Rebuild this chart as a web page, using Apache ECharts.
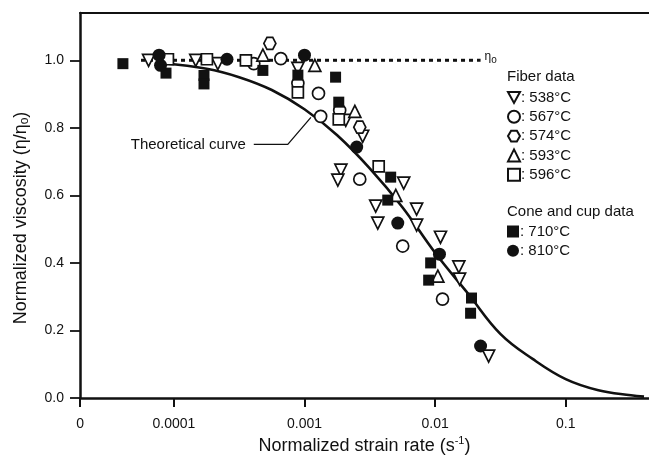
<!DOCTYPE html>
<html>
<head>
<meta charset="utf-8">
<script src="https://cdn.jsdelivr.net/npm/echarts@6/dist/echarts.min.js"></script>
<style>
html, body { margin: 0; padding: 0; background: #fff; }
#chart { width: 649px; height: 464px; }
</style>
</head>
<body>
<div id="chart"></div>
<script>
// axis range (the "0" tick is the left end of the broken log axis)
let xMin = Math.pow(10, -4.719);
let xMax = Math.pow(10, -0.362);
let xTicks = [xMin * 1.001, 1e-4, 1e-3, 1e-2, 1e-1];
let xTickLabels = ['0', '0.0001', '0.001', '0.01', '0.1'];
let yTicks = [0, 0.2, 0.4, 0.6, 0.8, 1.0];

// fiber data
let f538x = [6.4e-5, 1.47e-4, 2.17e-4, 8.9e-4, 2.07e-3, 2.79e-3, 1.9e-3, 1.8e-3, 5.75e-3, 3.51e-3, 7.22e-3, 3.64e-3, 7.22e-3, 0.011, 0.0152, 0.0154, 0.0257];
let f538y = [1.0, 1.0, 0.99, 0.976, 0.822, 0.775, 0.675, 0.645, 0.636, 0.568, 0.559, 0.518, 0.512, 0.476, 0.388, 0.352, 0.124];
let f567x = [4.09e-4, 6.59e-4, 8.9e-4, 1.28e-3, 1.86e-3, 1.33e-3, 2.65e-3, 5.65e-3, 0.0114];
let f567y = [0.99, 1.005, 0.932, 0.902, 0.852, 0.834, 0.648, 0.45, 0.293];
let f574x = [5.43e-4, 2.65e-3];
let f574y = [1.05, 0.802];
let f593x = [4.8e-4, 1.2e-3, 2.43e-3, 5.0e-3, 0.0105];
let f593y = [1.015, 0.985, 0.849, 0.60, 0.361];
let f596x = [9.0e-5, 1.79e-4, 3.56e-4, 8.9e-4, 1.83e-3, 3.7e-3];
let f596y = [1.003, 1.003, 1.0, 0.905, 0.825, 0.686];

// cone and cup data
let c710x = [4.07e-5, 8.7e-5, 1.7e-4, 1.7e-4, 4.8e-4, 8.9e-4, 1.73e-3, 1.83e-3, 4.57e-3, 4.34e-3, 9.25e-3, 8.93e-3, 0.019, 0.0187];
let c710y = [0.99, 0.962, 0.955, 0.93, 0.97, 0.956, 0.95, 0.876, 0.654, 0.586, 0.40, 0.349, 0.296, 0.251];
let c810x = [7.7e-5, 7.9e-5, 2.55e-4, 1.0e-3, 2.51e-3, 5.18e-3, 0.0108, 0.0223];
let c810y = [1.015, 0.985, 1.003, 1.015, 0.743, 0.518, 0.426, 0.154];

// theoretical curve, eta0 line, leader of the curve label
let curveX = [8.3e-5, 1.78e-4, 3.16e-4, 5.62e-4, 1.0e-3, 1.78e-3, 3.16e-3, 5.62e-3, 0.01, 0.0178, 0.0316, 0.0562, 0.1, 0.178, 0.316, 0.398];
let curveY = [0.991, 0.975, 0.950, 0.912, 0.855, 0.778, 0.68, 0.565, 0.43, 0.31, 0.19, 0.115, 0.056, 0.023, 0.008, 0.004];
let eta0X = [5.6e-5, 0.0223];
let eta0Y = [1.0, 1.0];
let leaderX = [4.09e-4, 7.45e-4, 1.12e-3];
let leaderY = [0.751, 0.751, 0.831];

let font = '"Liberation Sans", Arial, sans-serif';
let ink = '#111';

function pairs(xs, ys) {
    return xs.map(function (x, i) { return [x, ys[i]]; });
}

function scatter(name, xs, ys, symbol, size, filled) {
    return {
        type: 'scatter',
        name: name,
        data: pairs(xs, ys),
        symbol: symbol,
        symbolSize: size,
        z: 5,
        itemStyle: {
            color: filled ? ink : '#fff',
            borderColor: ink,
            borderWidth: filled ? 0 : 1.7,
            opacity: 1
        }
    };
}

let hexagon = 'path://M0,5 L2.6,0.5 L7.4,0.5 L10,5 L7.4,9.5 L2.6,9.5 Z';
let triDown = 'path://M0,0 L10,0 L5,9 Z';

let chart = echarts.init(document.getElementById('chart'));

let legendBase = {
    orient: 'vertical',
    left: 507,
    padding: 0,
    itemWidth: 12,
    itemHeight: 12,
    itemGap: 4.3,
    formatter: ': {name}',
    textStyle: { fontFamily: font, fontSize: 15, color: ink, lineHeight: 12, padding: [0, 0, 0, -4] }
};

let option = {
    animation: false,
    backgroundColor: '#fff',
    grid: { left: 80, right: 0, top: 13, bottom: 66 },
    legend: [
        Object.assign({}, legendBase, { top: 90, data: ['538°C', '567°C', '574°C', '593°C', '596°C'] }),
        Object.assign({}, legendBase, { top: 224, data: ['710°C', '810°C'] })
    ],
    xAxis: [{
        type: 'log',
        min: xMin,
        max: xMax,
        position: 'bottom',
        name: 'Normalized strain rate (s{sup|-1})',
        nameLocation: 'middle',
        nameGap: 36,
        nameTextStyle: {
            fontFamily: font, fontSize: 18, color: ink,
            rich: { sup: { fontFamily: font, fontSize: 11, color: ink, verticalAlign: 'top', padding: [0, 0, 9, 0] } }
        },
        axisLine: { lineStyle: { color: ink, width: 2.5 } },
        axisTick: { length: 9, lineStyle: { color: ink, width: 2 }, customValues: xTicks },
        minorTick: { show: false },
        splitLine: { show: false },
        axisLabel: {
            customValues: xTicks,
            showMinLabel: true,
            margin: 19,
            fontFamily: font,
            fontSize: 14,
            color: ink,
            formatter: function (v) {
                if (v < 5e-5) return xTickLabels[0];
                return xTickLabels[Math.round(Math.log10(v)) + 5];
            }
        }
    }, {
        type: 'log',
        min: xMin,
        max: xMax,
        position: 'top',
        axisLine: { lineStyle: { color: ink, width: 2 } },
        axisTick: { show: false },
        axisLabel: { show: false },
        splitLine: { show: false }
    }],
    yAxis: {
        type: 'value',
        min: 0,
        max: 1.14,
        axisLine: { show: true, lineStyle: { color: ink, width: 2.5 } },
        axisTick: { show: true, length: 10, lineStyle: { color: ink, width: 1.8 }, customValues: yTicks },
        splitLine: { show: false },
        axisLabel: {
            customValues: yTicks,
            margin: 16,
            fontFamily: font,
            fontSize: 14,
            color: ink,
            formatter: function (v) { return v.toFixed(1); }
        }
    },
    series: [
        {
            type: 'line',
            name: 'curve',
            data: pairs(curveX, curveY),
            smooth: 0.4,
            showSymbol: false,
            z: 3,
            lineStyle: { color: ink, width: 2.6 }
        },
        {
            type: 'line',
            name: 'eta0',
            data: pairs(eta0X, eta0Y),
            showSymbol: false,
            z: 2,
            lineStyle: { color: ink, width: 3, type: [4, 4] },
            endLabel: {
                show: true,
                distance: 4,
                offset: [0, -4],
                formatter: 'η{sub|o}',
                fontFamily: font,
                fontSize: 12,
                color: ink,
                rich: { sub: { fontFamily: font, fontSize: 10, color: ink, padding: [7, 0, 0, 0] } }
            }
        },
        {
            type: 'line',
            name: 'leader',
            data: pairs(leaderX, leaderY),
            showSymbol: false,
            z: 2,
            lineStyle: { color: ink, width: 1.3 }
        },
        scatter('538°C', f538x, f538y, triDown, 12, false),
        scatter('567°C', f567x, f567y, 'circle', 12, false),
        scatter('574°C', f574x, f574y, hexagon, 12, false),
        scatter('593°C', f593x, f593y, 'triangle', 12, false),
        scatter('596°C', f596x, f596y, 'rect', 11, false),
        scatter('710°C', c710x, c710y, 'rect', 11, true),
        scatter('810°C', c810x, c810y, 'circle', 13, true)
    ]
};

chart.setOption(option);

// texts; the curve label sits at the start of its leader line
let p = chart.convertToPixel({ gridIndex: 0 }, [leaderX[0], leaderY[0]]);
chart.setOption({
    graphic: [
        {
            type: 'text', left: 507, top: 69,
            style: { text: 'Fiber data', fontFamily: font, fontSize: 15, fill: ink }
        },
        {
            type: 'text', left: 507, top: 204,
            style: { text: 'Cone and cup data', fontFamily: font, fontSize: 15, fill: ink }
        },
        {
            type: 'text', x: 21, y: 218, rotation: Math.PI / 2,
            style: {
                text: 'Normalized viscosity (η/η{sub|o})',
                fontFamily: font, fontSize: 18, fill: ink,
                align: 'center', verticalAlign: 'middle',
                rich: { sub: { fontFamily: font, fontSize: 12, fill: ink, padding: [7, 0, 0, 0] } }
            }
        },
        {
            type: 'text', x: p[0] - 8, y: p[1],
            style: { text: 'Theoretical curve', fontFamily: font, fontSize: 15, fill: ink, align: 'right', verticalAlign: 'middle' }
        }
    ]
});
</script>
</body>
</html>
